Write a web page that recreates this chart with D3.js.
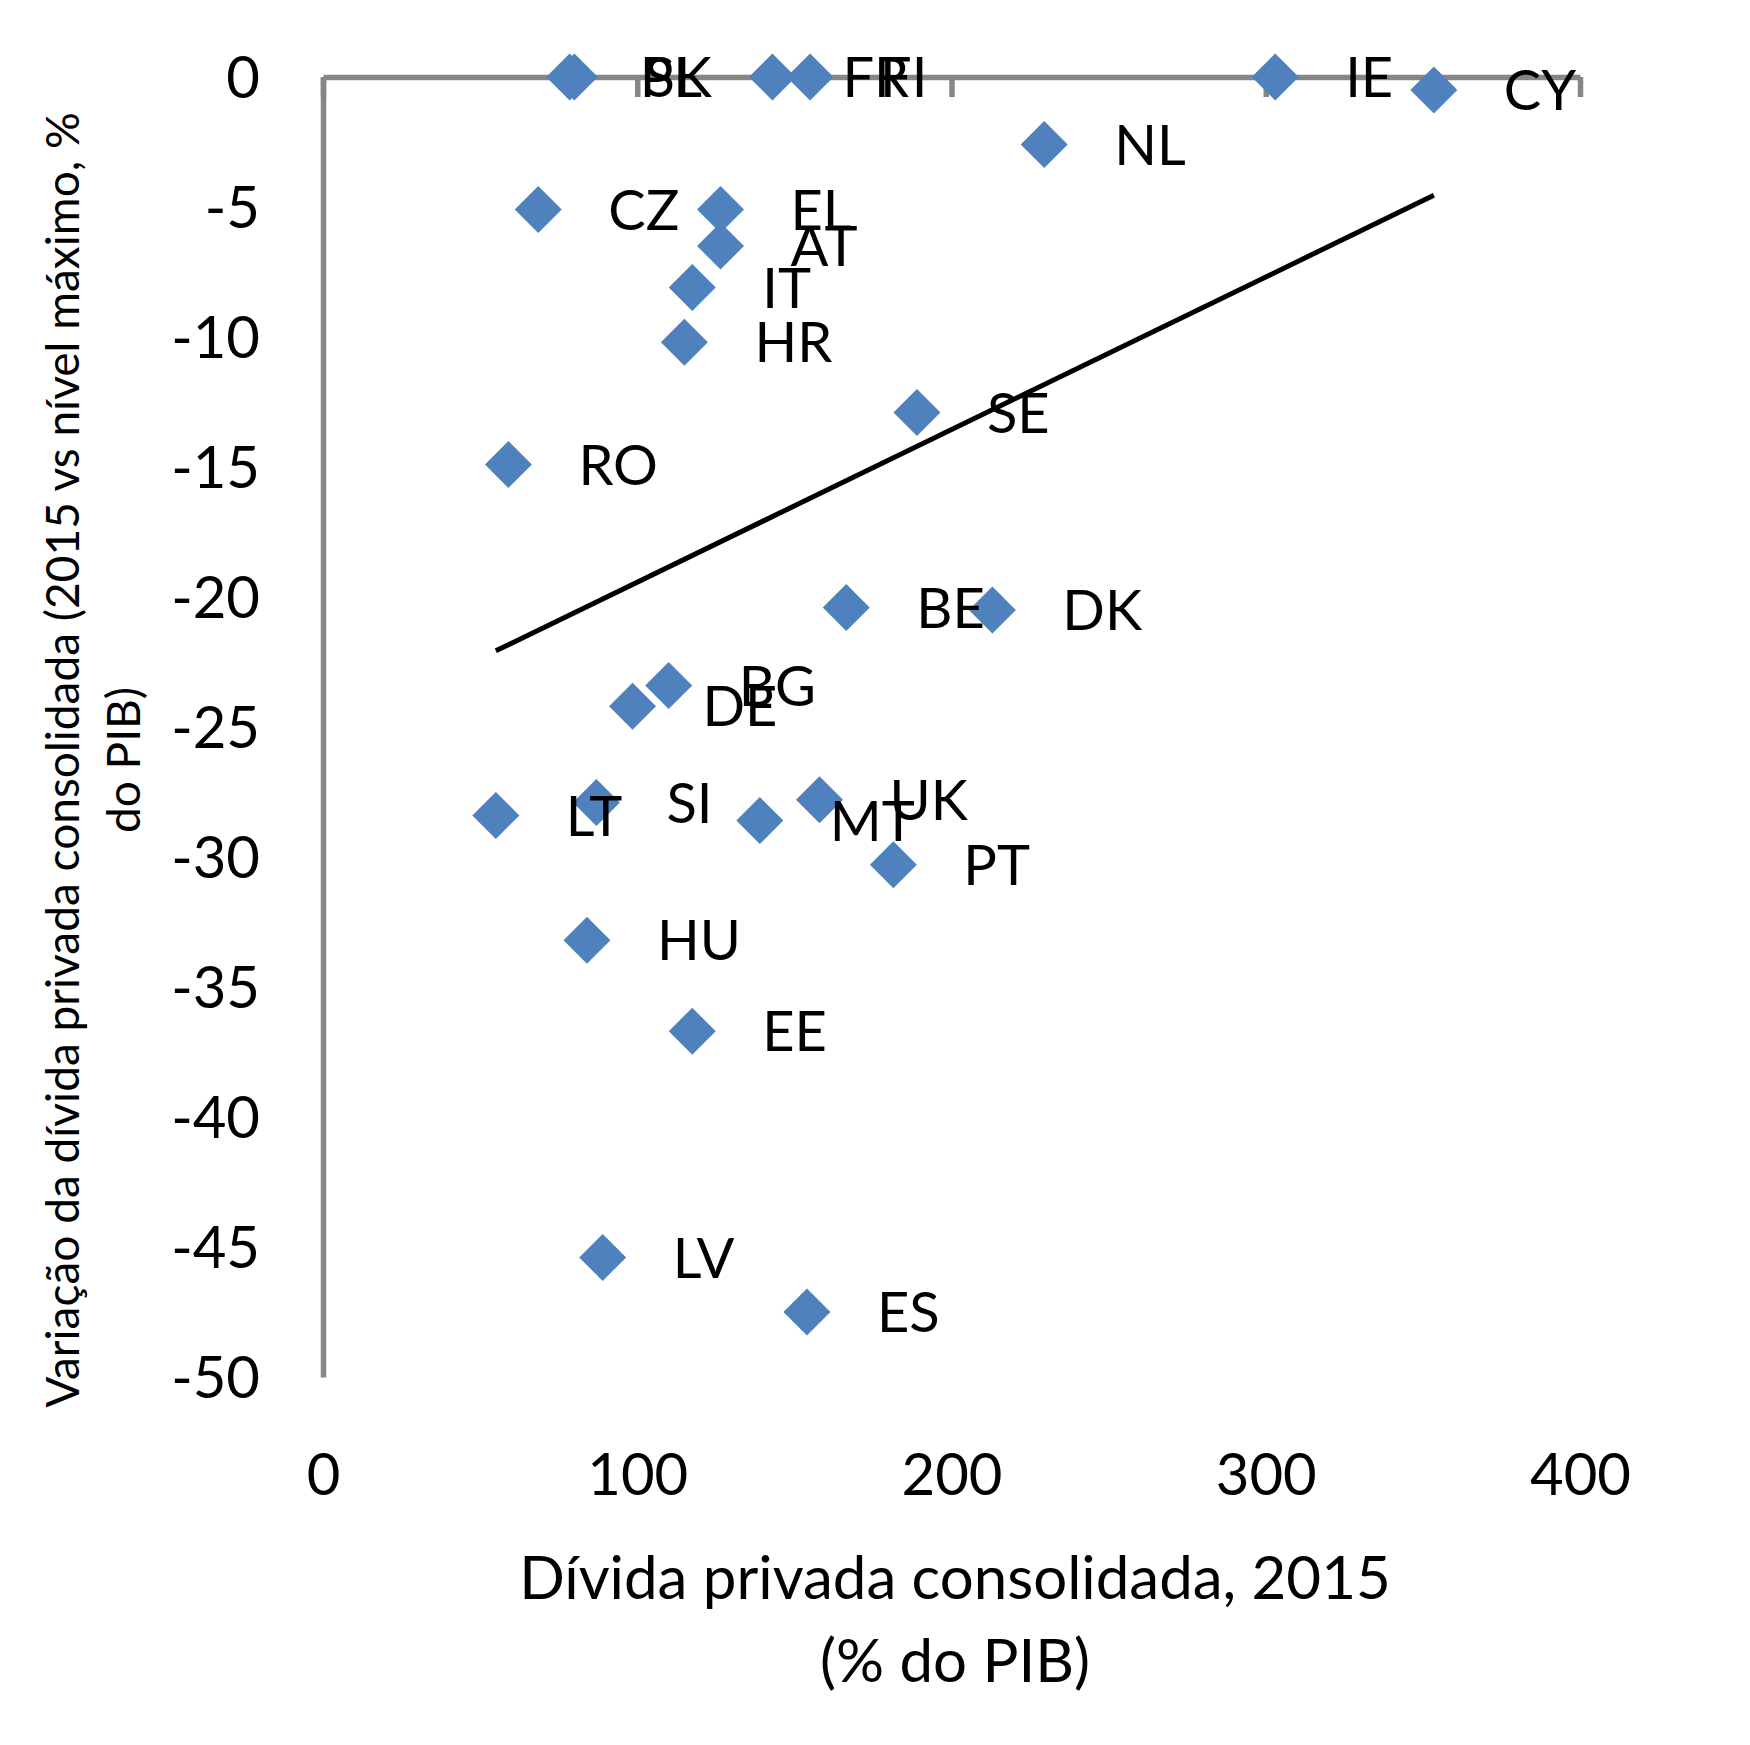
<!DOCTYPE html>
<html>
<head>
<meta charset="utf-8">
<script src="https://cdn.jsdelivr.net/npm/d3@7"></script>
<style>
  body { margin: 0; background: #fff; }
  svg text { font-family: Lato, "Open Sans", sans-serif; fill: #000; }
</style>
</head>
<body>
<svg id="chart"></svg>
<script>
// values
let countries = ['PL', 'SK', 'FR', 'FI', 'IE', 'CY', 'NL', 'CZ', 'EL', 'AT', 'IT', 'HR', 'SE', 'RO',
                 'BE', 'DK', 'BG', 'DE', 'LT', 'SI', 'MT', 'UK', 'PT', 'HU', 'EE', 'LV', 'ES']
let debt2015 = [78.5, 80, 143, 155, 303, 353.5, 229.5, 68.5, 126.5, 126.5, 117.5, 115, 189, 59,
                166.5, 213, 110, 98.5, 55, 87, 139, 158, 181.5, 84, 117.5, 89, 154]
let debtChange = [0, 0, 0, 0, 0, -0.5, -2.6, -5.1, -5.1, -6.5, -8.1, -10.2, -12.9, -14.9,
                  -20.4, -20.5, -23.4, -24.2, -28.4, -27.9, -28.6, -27.8, -30.3, -33.2, -36.7, -45.4, -47.5]
let xTicks = [0, 100, 200, 300, 400]
let yTicks = [0, -5, -10, -15, -20, -25, -30, -35, -40, -45, -50]
let xTitle = ['Dívida privada consolidada, 2015', '(% do PIB)']
let yTitle = ['Variação da dívida privada consolidada (2015 vs nível máximo, %', 'do PIB)']

let width = 1750
let height = 1745
let axisColor = '#868686'
let dotColor = '#4F81BD'

let points = countries.map((c, i) => ({ name: c, x: debt2015[i], y: debtChange[i] }))

let svg = d3.select('#chart')
  .attr('width', width)
  .attr('height', height)

let xScale = d3.scaleLinear().domain([0, 400]).range([323, 1580])
let yScale = d3.scaleLinear().domain([-50, 0]).range([1377, 77])

// x axis line sits at y = 0, tick marks hang below it
let xAxis = svg.append('g')
  .attr('transform', 'translate(0,' + yScale(0) + ')')
  .call(d3.axisBottom(xScale).tickValues(xTicks).tickSize(20).tickSizeOuter(0).tickFormat(''))
xAxis.selectAll('path, line').attr('stroke', axisColor).attr('stroke-width', 5.5)

// x tick labels at the bottom of the plot
let xLabels = svg.append('g')
  .attr('transform', 'translate(0,1474)')
  .call(d3.axisBottom(xScale).tickValues(xTicks).tickSize(0).tickFormat(d => String(d)))
xLabels.select('.domain').remove()
xLabels.selectAll('text')
  .attr('y', 0).attr('dy', '0.36em')
  .style('font-size', '58px')

let yAxis = svg.append('g')
  .attr('transform', 'translate(' + xScale(0) + ',0)')
  .call(d3.axisLeft(yScale).tickValues(yTicks).tickSize(0).tickSizeOuter(0).tickPadding(63)
    .tickFormat(d => String(d)))
yAxis.select('.domain').attr('stroke', axisColor).attr('stroke-width', 5.5)
yAxis.selectAll('text')
  .attr('dy', '0.36em')
  .style('font-size', '58px')

// linear trend fitted on the points
let mx = d3.mean(points, d => d.x)
let my = d3.mean(points, d => d.y)
let slope = d3.sum(points, d => (d.x - mx) * (d.y - my)) / d3.sum(points, d => (d.x - mx) ** 2)
let xr = d3.extent(points, d => d.x)
let trend = xr.map(v => [v, my + slope * (v - mx)])

svg.append('path')
  .datum(trend)
  .attr('d', d3.line().x(d => xScale(d[0])).y(d => yScale(d[1])))
  .attr('stroke', '#000')
  .attr('stroke-width', 5)
  .attr('fill', 'none')

let diamond = d3.symbol().type(d3.symbolSquare).size(1104)

svg.selectAll('.dot')
  .data(points)
  .enter()
  .append('path')
  .attr('class', 'dot')
  .attr('d', diamond)
  .attr('transform', d => 'translate(' + xScale(d.x) + ',' + yScale(d.y) + ') rotate(45)')
  .attr('fill', dotColor)

svg.selectAll('.lbl')
  .data(points)
  .enter()
  .append('text')
  .attr('class', 'lbl')
  .attr('x', d => xScale(d.x) + 70)
  .attr('y', d => yScale(d.y))
  .attr('dy', '0.36em')
  .style('font-size', '56px')
  .text(d => d.name)

// axis titles
svg.append('g')
  .selectAll('text')
  .data(xTitle)
  .enter()
  .append('text')
  .attr('x', 955)
  .attr('y', (d, i) => 1577 + i * 83)
  .attr('dy', '0.36em')
  .attr('text-anchor', 'middle')
  .style('font-size', '60px')
  .text(d => d)

svg.append('g')
  .attr('transform', 'translate(0,760) rotate(-90)')
  .selectAll('text')
  .data(yTitle)
  .enter()
  .append('text')
  .attr('x', 0)
  .attr('y', (d, i) => 62 + i * 61)
  .attr('dy', '0.36em')
  .attr('text-anchor', 'middle')
  .style('font-size', '46px')
  .text(d => d)
</script>
</body>
</html>
